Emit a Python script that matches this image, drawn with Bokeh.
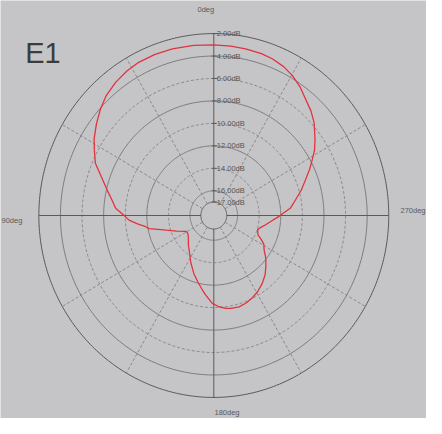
import numpy as np
from bokeh.plotting import figure
from bokeh.models import Range1d, ColumnDataSource, Label
from bokeh.embed import file_html
from bokeh.resources import INLINE

# ---- data (angle CCW from top, level in dB) ----
angles_deg = [0, 7, 14.5, 21, 27, 32, 37.5, 43, 48, 53, 58.5, 63, 67, 74, 78, 82, 86, 90,
              93, 96, 99, 101, 103.5, 106.5, 112, 118.4, 121.5, 126, 132.6, 138, 146.3,
              153, 160.4, 166, 171, 174, 179, 183.4, 187.5, 191, 196, 201, 206, 211,
              216.6, 222, 227, 232, 236.7, 241, 244, 247.2, 252.8, 256, 260.3, 265,
              269.3, 275.4, 280.5, 285.5, 290.6, 295, 298.7, 302, 305.9, 311.7, 316,
              320.7, 325, 329.7, 334, 338.8, 343, 348.8, 354, 360]
level_db = [3.0, 2.93, 2.87, 2.86, 2.89, 3.02, 3.26, 3.6, 4.07, 4.6, 5.2, 5.8, 6.29, 7.62,
            8.2, 8.71, 9.09, 9.9, 10.34, 11.1, 11.81, 12.1, 12.9, 13.6, 14.5, 15.23,
            15.33, 15.26, 15.0, 14.68, 14.16, 13.5, 12.7, 12.1, 11.48, 11.07, 10.37,
            10.06, 9.85, 9.78, 9.74, 9.85, 10.05, 10.3, 10.67, 11.1, 11.6, 12.1, 12.63,
            12.9, 13.3, 13.76, 13.95, 13.75, 13.33, 12.8, 12.16, 11.06, 10.5, 9.8, 9.12,
            8.4, 7.8, 7.2, 6.63, 5.76, 5.25, 4.79, 4.25, 3.77, 3.45, 3.23, 3.13, 3.07,
            3.03, 3.0]
ring_db = [2, 4, 6, 8, 10, 12, 14, 16, 17]
ring_labels = ["2.00dB", "4.00dB", "6.00dB", "8.00dB", "10.00dB", "12.00dB",
               "14.00dB", "16.00dB", "17.00dB"]
dir_labels = ["0deg", "90deg", "180deg", "270deg"]
title_text = "E1"

# ---- layout ----
R0 = 18.2                 # dB value at the centre
W, H = 426, 418
KX, KY = 10.8, 11.23      # pixels per radial unit
CX, CY = 213.3, 215.0     # centre in figure pixels (from top-left)
BG = "#c5c5c8"
FONT = "Liberation Sans"


def pxd(x, y):
    return (x - CX) / KX, (CY - y) / KY


def pol(r, a_deg):
    a = np.radians(np.asarray(a_deg, dtype=float))
    r = np.asarray(r, dtype=float)
    return -r * np.sin(a), r * np.cos(a)


p = figure(width=W, height=H,
           x_range=Range1d(-CX / KX, (W - CX) / KX),
           y_range=Range1d(-(H - CY) / KY, CY / KY),
           output_backend="svg", toolbar_location=None, min_border=0,
           x_axis_location=None, y_axis_location=None)
p.grid.visible = False
p.outline_line_color = None
p.background_fill_color = BG
p.border_fill_color = BG

theta = np.linspace(0, 360, 361)
r_in = R0 - ring_db[-1]
r_out = R0 - ring_db[0]

# rings
for db in ring_db:
    r = R0 - db
    xs, ys = pol(np.full_like(theta, r), theta)
    if db in (2, 17):
        p.line(xs, ys, line_color="#5a5a5a", line_width=1)
    elif db in (6, 10, 14):
        p.line(xs, ys, line_color="#8a8a8a", line_width=1, line_dash="3 2")
    else:
        p.line(xs, ys, line_color="#7c7c7c", line_width=1)

# radial lines
for a in range(0, 360, 30):
    xs, ys = pol([r_in, r_out], [a, a])
    if a % 90 == 0:
        p.line(xs, ys, line_color="#5a5a5a", line_width=1)
    else:
        p.line(xs, ys, line_color="#8a8a8a", line_width=1, line_dash="3 2")

# ticks and ring labels on the 0deg axis
for db, lab in zip(ring_db, ring_labels):
    r = R0 - db
    p.line([-2 / KX, 3 / KX], [r, r], line_color="#5a5a5a", line_width=1)
    p.add_layout(Label(x=3 / KX, y=r, text=lab, text_font=FONT,
                       text_font_size="7.5px", text_color="#555555",
                       text_baseline="middle", text_align="left"))

# direction labels
dir_pos = [(197, 9, "left"), (1, 220, "left"), (214, 412, "left"), (425, 210, "right")]
for lab, (x, y, al) in zip(dir_labels, dir_pos):
    dx, dy = pxd(x, y)
    p.add_layout(Label(x=dx, y=dy, text=lab, text_font=FONT,
                       text_font_size="7.5px", text_color="#5a5a5a",
                       text_baseline="middle", text_align=al))

# response curve
cx, cy = pol(R0 - np.array(level_db), angles_deg)
src = ColumnDataSource(dict(x=cx, y=cy))
p.line("x", "y", source=src, line_color="#e2323e", line_width=1.3)

# title
tx, ty = pxd(24.7, 52)
p.add_layout(Label(x=tx, y=ty, text=title_text, text_font=FONT,
                   text_font_size="29px", text_color="#3c3c3c",
                   text_baseline="alphabetic", text_align="left"))

html = file_html(p, INLINE)
html = html.replace("<body>", '<body style="background-color:#d3d3d5;">', 1)
open("out.html", "w").write(html)
